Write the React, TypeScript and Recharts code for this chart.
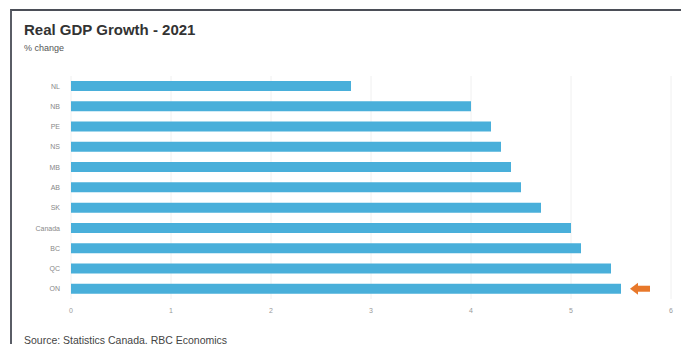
import React from "react";
import { BarChart, Bar, XAxis, YAxis, CartesianGrid, LabelList } from "recharts";

const provinces = ["NL", "NB", "PE", "NS", "MB", "AB", "SK", "Canada", "BC", "QC", "ON"];
const growth = [2.8, 4.0, 4.2, 4.3, 4.4, 4.5, 4.7, 5.0, 5.1, 5.4, 5.5];
const xTicks = [0, 1, 2, 3, 4, 5, 6];
const highlighted = "ON";

const data = provinces.map((p, i) => ({ name: p, value: growth[i] }));

const ArrowLabel = (props: any) => {
  const { x, y, width, height, index } = props;
  if (data[index]?.name !== highlighted) return null;
  const sx = x + width + 9;
  const cy = y + height / 2;
  return (
    <g>
      <polygon points={`${sx},${cy} ${sx + 8},${cy - 6} ${sx + 8},${cy + 6}`} fill="#e8782a" />
      <rect x={sx + 7} y={cy - 3} width={13} height={6} fill="#e8782a" />
    </g>
  );
};

export default function App() {
  return (
    <div style={{ position: "relative", width: 689, height: 352, margin: -8, overflow: "hidden", background: "#fff", fontFamily: "'Liberation Sans', Arial, sans-serif" }}>
      <div style={{ position: "absolute", left: 10, top: 9, width: 673, height: 360, borderTop: "2px solid #4b4e57", borderLeft: "2px solid #5a5d66", borderRight: "2px solid #5a5d66", background: "#fff" }} />
      <div style={{ position: "absolute", left: 24, top: 21, fontSize: 15, fontWeight: "bold", color: "#333" }}>Real GDP Growth - 2021</div>
      <div style={{ position: "absolute", left: 24, top: 43, fontSize: 9, color: "#555" }}>% change</div>
      <div style={{ position: "absolute", left: 24, top: 334, fontSize: 10.5, lineHeight: "12px", color: "#444" }}>Source: Statistics Canada, RBC Economics</div>
      <div style={{ position: "absolute", left: 0, top: 0 }}>
        <BarChart width={689} height={352} data={data} layout="vertical" margin={{ top: 76, right: 18, bottom: 23, left: 0 }}>
          <CartesianGrid horizontal={false} stroke="#f0f0f0" />
          <XAxis type="number" domain={[0, 6]} ticks={xTicks} axisLine={false} tickLine={false} tick={{ fontSize: 7, fill: "#999" }} height={30} tickMargin={3} />
          <YAxis type="category" dataKey="name" width={71} axisLine={false} tickLine={false} tick={{ fontSize: 7, fill: "#888" }} tickMargin={5} interval={0} />
          <Bar dataKey="value" fill="#49afda" barSize={10} isAnimationActive={false}>
            <LabelList dataKey="value" content={ArrowLabel} />
          </Bar>
        </BarChart>
      </div>
    </div>
  );
}
